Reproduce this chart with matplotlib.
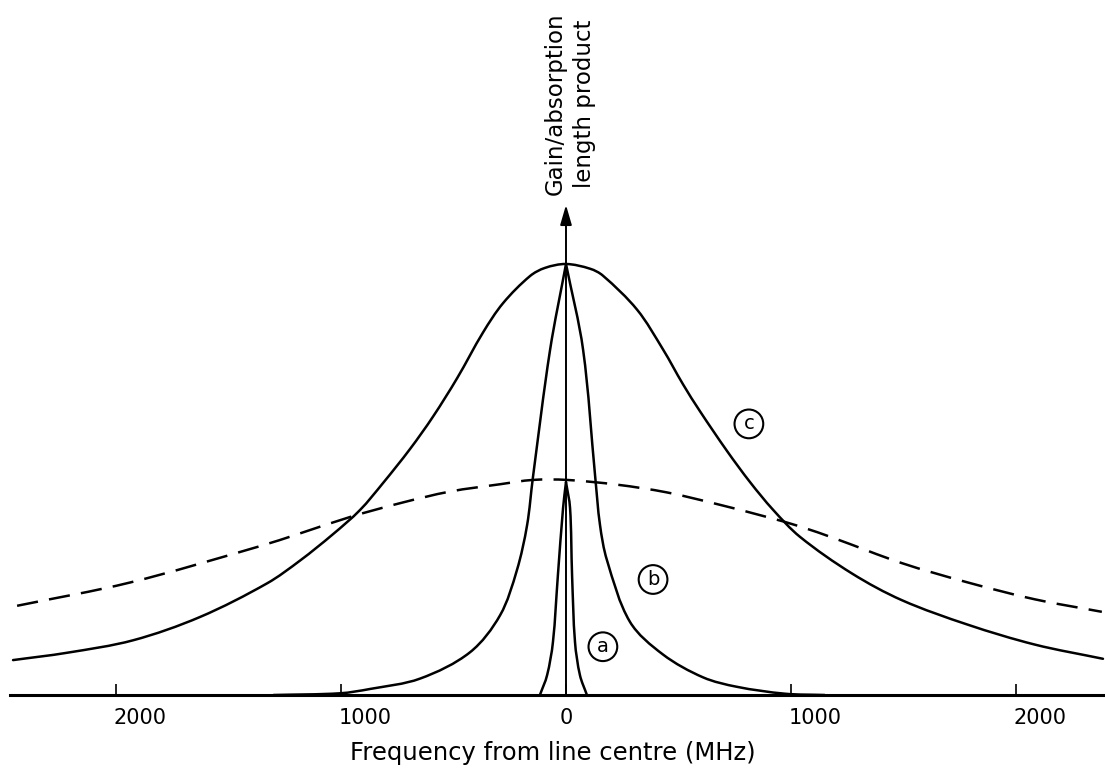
import numpy as np
import matplotlib
matplotlib.use("Agg")
import matplotlib.pyplot as plt
import matplotlib.transforms as mtransforms
from matplotlib.path import Path
from matplotlib.patches import PathPatch

# values: frequency (MHz) and height (peak of c = 1)
c_x = [-2458, -2218, -1924, -1627, -1329, -1182, -1036, -916, -813, -693, -591, -484,
       -369, -280, -160, -93, 0, 107, 164, 316, 431, 520, 596, 716, 818, 920, 1040,
       1271, 1493, 1787, 2084, 2387]
c_y = [0.081, 0.098, 0.127, 0.181, 0.259, 0.312, 0.373, 0.429, 0.492, 0.571, 0.646,
       0.735, 0.841, 0.909, 0.972, 0.991, 1.0, 0.989, 0.973, 0.894, 0.802, 0.721,
       0.658, 0.566, 0.494, 0.430, 0.367, 0.282, 0.220, 0.163, 0.117, 0.084]

# curve b, left and right flanks (peak shared at 0 MHz)
b_left_x = [-1300, -1004, -871, -649, -427, -293, -218, -173, -147, -71, 0]
b_left_y = [0.0, 0.004, 0.014, 0.038, 0.099, 0.185, 0.290, 0.394, 0.505, 0.800, 1.0]
b_right_x = [0, 76, 130, 151, 182, 284, 431, 609, 760, 973, 1150]
b_right_y = [1.0, 0.801, 0.505, 0.395, 0.313, 0.170, 0.094, 0.041, 0.019, 0.003, 0.0]

# curve a, left and right flanks
a_left_x = [-116, -84, -58, -36, -13, 0]
a_left_y = [0.0, 0.046, 0.123, 0.278, 0.434, 0.494]
a_right_x = [0, 18, 27, 40, 62, 93]
a_right_y = [0.494, 0.434, 0.278, 0.123, 0.046, 0.0]

# dashed curve
dash_x = [-2440, -1938, -1369, -1182, -960, -738, -516, -293, -147, 4, 227, 449,
          671, 893, 1040, 1196, 1493, 1787, 2084, 2382]
dash_y = [0.207, 0.261, 0.344, 0.375, 0.413, 0.445, 0.472, 0.489, 0.499, 0.499,
          0.488, 0.470, 0.443, 0.413, 0.391, 0.363, 0.306, 0.261, 0.222, 0.193]

tick_pos = [-2000, -1000, 0, 1000, 2000]
tick_lab = ["2000", "1000", "0", "1000", "2000"]

labels = ["a", "b", "c"]
label_x = [164, 387, 813]
label_y = [0.112, 0.268, 0.629]

plt.rcParams['font.family'] = ['DejaVu Sans']

fig = plt.figure(figsize=(11.05, 7.69), dpi=100)
ax = fig.add_axes([0, 74 / 769, 1, 695 / 769])
ax.set_xlim(-2516, 2396)
ax.set_ylim(0, 1.6125)


def smooth_path(xs, ys):
    # smooth drawing through the read points (chord-length Catmull-Rom as Beziers)
    pts = ax.transData.transform(np.column_stack([xs, ys]).astype(float))
    n = len(pts)
    d = np.hypot(*np.diff(pts, axis=0).T)
    m = np.zeros_like(pts)
    m[0] = (pts[1] - pts[0]) / d[0]
    m[-1] = (pts[-1] - pts[-2]) / d[-1]
    for i in range(1, n - 1):
        m[i] = (pts[i + 1] - pts[i - 1]) / (d[i - 1] + d[i])
    verts = [pts[0]]
    codes = [Path.MOVETO]
    for i in range(n - 1):
        verts += [pts[i] + m[i] * d[i] / 3, pts[i + 1] - m[i + 1] * d[i] / 3, pts[i + 1]]
        codes += [Path.CURVE4] * 3
    verts = ax.transData.inverted().transform(np.array(verts))
    return Path(verts, codes)


lw = 1.8
solid = [(c_x, c_y), (b_left_x, b_left_y), (b_right_x, b_right_y),
         (a_left_x, a_left_y), (a_right_x, a_right_y)]
for xs, ys in solid:
    ax.add_patch(PathPatch(smooth_path(xs, ys), fill=False, ec='black', lw=lw,
                           joinstyle='round', capstyle='round'))
ax.add_patch(PathPatch(smooth_path(dash_x, dash_y), fill=False, ec='black', lw=lw,
                       ls=(0, (8.5, 4.5))))

# vertical axis with arrow
ax.annotate("", xy=(0, 1.137), xytext=(0, 0),
            arrowprops=dict(arrowstyle='-|>,head_length=1.2,head_width=0.35',
                            mutation_scale=10, lw=1.4, color='black',
                            shrinkA=0, shrinkB=0))
ax.text(16, 1.160, "Gain/absorption\nlength product", rotation=90,
        ha='center', va='bottom', multialignment='center', fontsize=16.5,
        linespacing=1.35)

for s, x, y in zip(labels, label_x, label_y):
    ax.text(x, y, s, ha='center', va='center', fontsize=14,
            bbox=dict(boxstyle='circle,pad=0.25', fc='white', ec='black', lw=1.5))

for sp in ['top', 'left', 'right']:
    ax.spines[sp].set_visible(False)
ax.spines['bottom'].set_linewidth(2.2)
ax.spines['bottom'].set_bounds(-2471, 2396)
ax.set_yticks([])
ax.set_xticks(tick_pos)
ax.set_xticklabels(tick_lab)
ax.tick_params(axis='x', direction='in', length=8, width=1.2, pad=9, labelsize=15)

# the printed labels sit a little to the right of their tick marks
shift = mtransforms.ScaledTranslation(0.24, 0, fig.dpi_scale_trans)
for lab, val in zip(ax.get_xticklabels(), tick_pos):
    if val != 0:
        lab.set_transform(lab.get_transform() + shift)

ax.set_xlabel("Frequency from line centre (MHz)", fontsize=17.5, labelpad=10)
ax.patch.set_alpha(0)

fig.savefig("out.png", dpi=100)
